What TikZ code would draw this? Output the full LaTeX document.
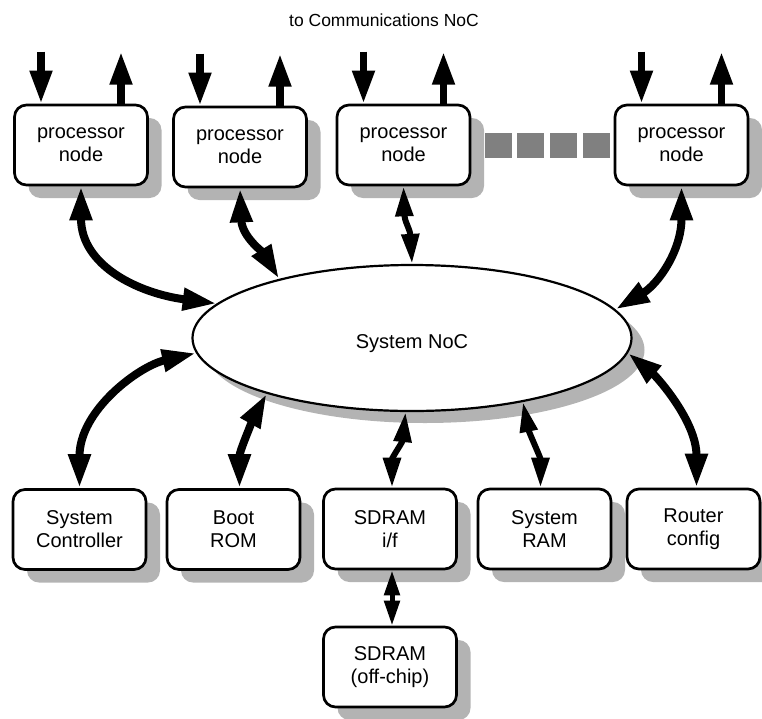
\documentclass[tikz,border=0pt]{standalone}
\usepackage{fontspec}
\setmainfont{Liberation Sans}
\usetikzlibrary{arrows.meta,shapes.geometric,shadows}
\definecolor{shadowgray}{HTML}{B3B3B3}
\definecolor{dotgray}{HTML}{808080}
\begin{document}
\begin{tikzpicture}[x=1pt,y=-1pt,
  box/.style={draw, line width=2.7pt, rounded corners=12pt, fill=white,
    minimum width=133pt, minimum height=80pt, align=center, inner sep=0pt,
    font=\fontsize{20}{23}\selectfont,
    general shadow={fill=shadowgray, shadow xshift=14pt, shadow yshift=-13pt}},
  nocstyle/.style={draw, ellipse, line width=2.2pt, fill=white,
    minimum width=439pt, minimum height=146pt, inner sep=0pt,
    font=\fontsize{20}{23}\selectfont,
    general shadow={fill=shadowgray, shadow xshift=13pt, shadow yshift=-12pt}},
  big/.style={line width=8pt, arrows={Triangle[length=34pt,width=21pt]-Triangle[length=34pt,width=21pt]}},
  med/.style={line width=6pt, arrows={Triangle[length=30pt,width=17pt]-Triangle[length=30pt,width=17pt]}},
  small/.style={line width=5pt, arrows={Triangle[length=25pt,width=15pt]-Triangle[length=25pt,width=15pt]}},
  io/.style={line width=7.5pt, arrows={-Triangle[length=33pt,width=21pt]}},
  dotsq/.style={fill=dotgray}
]
\useasboundingbox (0,0) rectangle (762,718);

\node[font=\fontsize{17.5}{20}\selectfont] (title) at (384,20) {to Communications NoC};

% processor nodes
\node[box] (p1) at (81,145) {processor\\node};
\node[box] (p2) at (240,147) {processor\\node};
\node[box] (p3) at (403.5,145) {processor\\node};
\node[box] (p4) at (681.5,145) {processor\\node};

% ellipsis squares
\fill[dotsq] (485,133) rectangle (512,158);
\fill[dotsq] (517,133) rectangle (544,158);
\fill[dotsq] (550,133) rectangle (577,158);
\fill[dotsq] (583,133) rectangle (610,158);

% system NoC
\node[nocstyle] (noc) at (412,338) {};
\node (noclabel) at (412,344) {\fontsize{20}{23}\selectfont System NoC};

% bottom nodes
\node[box] (sc) at (79.5,529.5) {System\\Controller};
\node[box] (br) at (233.5,529.5) {Boot\\ROM};
\node[box] (si) at (390,529) {SDRAM\\i/f};
\node[box] (sr) at (544.5,529) {System\\RAM};
\node[box] (rc) at (693.5,529) {Router\\config};
\node[box] (so) at (390,667) {SDRAM\\(off-chip)};

% communications NoC links
\foreach \p in {p1,p2,p3,p4}{
  \draw[io] ([shift={(-40pt,52pt)}]\p.north) -- ([xshift=-40pt]\p.north);
  \draw[io] ([xshift=40pt]\p.north) -- ([shift={(40pt,52pt)}]\p.north);
}

% connectors to system NoC
\draw[big] (p1.south) .. controls +(0pt,-80pt) and +(-77pt,10pt) .. (noc.170);
\draw[big] (p2.south) .. controls +(2pt,-48pt) and +(-16pt,26pt) .. (noc.156);
\draw[med] (p3.south) .. controls +(1pt,-35pt) and +(-2pt,35pt) .. (noc.90);
\draw[big] (p4.south) .. controls +(0pt,-65pt) and +(42pt,25pt) .. (noc.8);

\draw[big] (noc.184) .. controls +(-57pt,-13pt) and +(0pt,78pt) .. (sc.north);
\draw[big] (noc.201) .. controls +(-10pt,-18pt) and +(0pt,38pt) .. ([xshift=6pt]br.north);
\draw[med] (noc.265) .. controls +(-3pt,-30pt) and +(0pt,30pt) .. ([xshift=2pt]si.north);
\draw[med] (noc.330) .. controls +(6pt,-30pt) and +(0pt,30pt) .. ([xshift=-4pt]sr.north);
\draw[big] (noc.-4) .. controls +(28pt,-23pt) and +(0pt,67pt) .. ([xshift=3pt]rc.north);

\draw[small] ([xshift=2pt]si.south) -- ([xshift=2pt]so.north);
\end{tikzpicture}
\end{document}
